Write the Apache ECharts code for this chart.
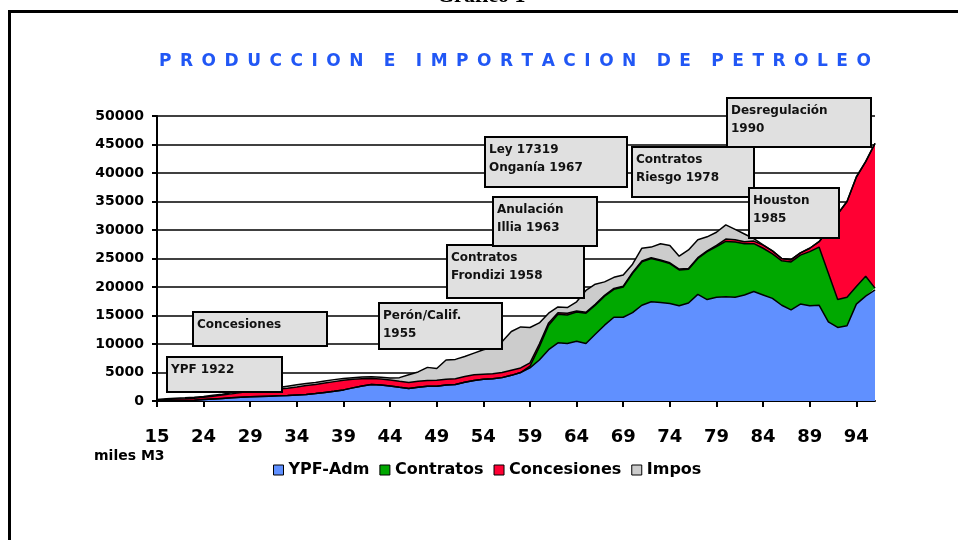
<!DOCTYPE html>
<html>
<head>
<meta charset="utf-8">
<title>Producción e importación de petróleo</title>
<script src="https://cdn.jsdelivr.net/npm/echarts@6/dist/echarts.min.js"></script>
<style>
  html, body { margin: 0; padding: 0; background: #fff; }
  #chart { width: 958px; height: 540px; }
</style>
</head>
<body>
<div id="chart"></div>
<script>
// años (1915, luego 1920..1996)
const years = ['15','20','21','22','23','24','25','26','27','28','29','30','31','32','33','34','35','36','37','38',
  '39','40','41','42','43','44','45','46','47','48','49','50','51','52','53','54','55','56','57','58',
  '59','60','61','62','63','64','65','66','67','68','69','70','71','72','73','74','75','76','77','78',
  '79','80','81','82','83','84','85','86','87','88','89','90','91','92','93','94','95','96']

// miles de m3
const ypfAdm = [20,50,80,100,150,250,350,450,550,650,750,800,850,900,950,1050,1150,1300,1500,1700,
  1950,2300,2650,2900,2800,2650,2400,2200,2400,2600,2600,2800,2900,3300,3600,3800,3900,4100,4500,5000,
  5800,7200,9000,10200,10100,10500,10100,11700,13300,14700,14700,15500,16800,17400,17300,17100,16700,17200,18700,17800,
  18200,18300,18200,18600,19200,18600,18000,16800,16000,17000,16700,16800,13900,12900,13200,17000,18400,19500]
const contratos = [0,0,0,0,0,0,0,0,0,0,0,0,0,0,0,0,0,0,0,0,
  0,0,0,0,0,0,0,0,0,0,0,0,0,0,0,0,0,0,0,0,
  300,2300,4300,5000,5000,5100,5300,5100,5100,4900,5300,6900,7600,7600,7300,7000,6300,5900,6300,8400,
  8900,9700,9700,9000,8400,8200,7800,7800,8400,8600,9500,10200,8500,4900,5000,3100,3500,300]
const concesiones = [80,200,270,300,350,400,500,600,700,850,1000,1050,1100,1200,1300,1400,1550,1600,1650,1700,
  1700,1500,1250,1050,1050,1050,1050,1050,1050,1000,1050,1000,1000,1000,1000,900,900,900,900,800,
  600,500,400,300,300,200,150,150,150,150,150,150,150,150,150,150,150,150,150,150,
  200,400,400,350,450,550,550,400,400,400,600,950,7600,15000,16800,19200,20100,25400]
const impos = [150,150,150,150,150,150,150,150,200,200,200,200,200,250,350,400,350,350,350,350,
  300,300,300,300,300,350,650,1350,1650,2300,2050,3400,3400,3500,3800,4300,4600,5400,6800,7200,
  6200,3700,1700,1000,1000,1600,3850,3550,2350,1950,1950,1450,2250,1850,2850,3050,2250,3250,3150,2450,
  2300,2500,1800,1350,450,50,0,0,0,0,0,0,0,0,0,0,0,0]

const yTicks = { min: 0, max: 50000, step: 5000 }

// recuadros de anotación (posiciones en píxeles de la página)
const notas = [
  { t: 'Desregulación\n1990', x: 727, y: 98, w: 144, h: 49 },
  { t: 'Ley 17319\nOnganía 1967', x: 485, y: 137, w: 142, h: 50 },
  { t: 'Contratos\nRiesgo 1978', x: 632, y: 147, w: 122, h: 50 },
  { t: 'Houston\n1985', x: 749, y: 188, w: 90, h: 50 },
  { t: 'Contratos\nFrondizi 1958', x: 447, y: 245, w: 137, h: 53 },
  { t: 'Anulación\nIllia 1963', x: 493, y: 197, w: 104, h: 49 },
  { t: 'Perón/Calif.\n1955', x: 379, y: 303, w: 123, h: 46 },
  { t: 'Concesiones', x: 193, y: 312, w: 134, h: 34 },
  { t: 'YPF 1922', x: 167, y: 357, w: 115, h: 35 }
]

const FONT = 'DejaVu Sans'
const chart = echarts.init(document.getElementById('chart'))

// título con letras espaciadas
const titulo = 'PRODUCCION E IMPORTACION DE PETROLEO'
  .split(' ')
  .map(w => w.split('').join('\u2002'))
  .join('\u2003\u2009')

function serie(name, data, color) {
  return {
    name: name,
    type: 'line',
    stack: 'total',
    data: data,
    showSymbol: false,
    symbol: 'none',
    color: color,
    lineStyle: { color: '#000', width: 1.5 },
    areaStyle: { color: color, opacity: 1 },
    emphasis: { disabled: true }
  }
}

const graficos = [
  // marco
  { type: 'rect', z: 0, silent: true,
    shape: { x: 9.5, y: 11.5, width: 1000, height: 600 },
    style: { fill: 'none', stroke: '#000', lineWidth: 3 } },
  { type: 'text', z: 10, left: 437, top: -15,
    style: { text: 'Gráfico 1', font: 'bold 22px "Liberation Serif"', fill: '#000' } },
  { type: 'text', z: 10, x: 515, y: 62,
    style: { text: titulo, font: 'bold 17px "' + FONT + '"', fill: '#2157f5',
      textAlign: 'center', textVerticalAlign: 'middle' } },
  { type: 'text', z: 10, x: 94, y: 456,
    style: { text: 'miles M3', font: 'bold 14px "' + FONT + '"', fill: '#000',
      textAlign: 'left', textVerticalAlign: 'middle' } }
]

notas.forEach(n => {
  graficos.push({
    type: 'group', z: 100,
    children: [
      { type: 'rect', z: 100, shape: { x: n.x, y: n.y, width: n.w, height: n.h },
        style: { fill: '#e0e0e0', stroke: '#000', lineWidth: 2 } },
      { type: 'text', z: 101, x: n.x + 4, y: n.y + 4,
        style: { text: n.t, font: 'bold 12px "' + FONT + '"', fill: '#111',
          lineHeight: 18, textAlign: 'left', textVerticalAlign: 'top' } }
    ]
  })
})

chart.setOption({
  animation: false,
  backgroundColor: '#fff',
  grid: { left: 157, right: 83, top: 116, bottom: 139, containLabel: false },
  legend: {
    left: 268, top: 457,
    itemWidth: 10, itemHeight: 10, itemGap: 10,
    icon: 'rect',
    textStyle: { fontFamily: FONT, fontWeight: 'bold', fontSize: 16, color: '#000' },
    data: ['YPF-Adm', 'Contratos', 'Concesiones', 'Impos'].map(n => ({
      name: n, itemStyle: { borderColor: '#000', borderWidth: 1 }
    }))
  },
  xAxis: {
    type: 'category',
    boundaryGap: false,
    data: years,
    axisLine: { lineStyle: { color: '#000', width: 2 } },
    axisTick: { interval: 4, length: 6, lineStyle: { color: '#000', width: 2 } },
    axisLabel: { interval: 4, margin: 27, color: '#000', fontFamily: FONT, fontWeight: 'bold', fontSize: 18 },
    splitLine: { show: false }
  },
  yAxis: {
    type: 'value',
    min: yTicks.min, max: yTicks.max, interval: yTicks.step,
    axisLine: { show: true, lineStyle: { color: '#000', width: 2 } },
    axisTick: { show: true, length: 5, lineStyle: { color: '#000', width: 2 } },
    axisLabel: { margin: 13, color: '#000', fontFamily: FONT, fontWeight: 'bold', fontSize: 14,
      formatter: v => String(v) },
    splitLine: { lineStyle: { color: '#000', width: 1.5 } }
  },
  series: [
    serie('YPF-Adm', ypfAdm, '#6090ff'),
    serie('Contratos', contratos, '#00a800'),
    serie('Concesiones', concesiones, '#ff0033'),
    serie('Impos', impos, '#cccccc')
  ],
  graphic: graficos
})
window.addEventListener('resize', () => chart.resize())
</script>
</body>
</html>
